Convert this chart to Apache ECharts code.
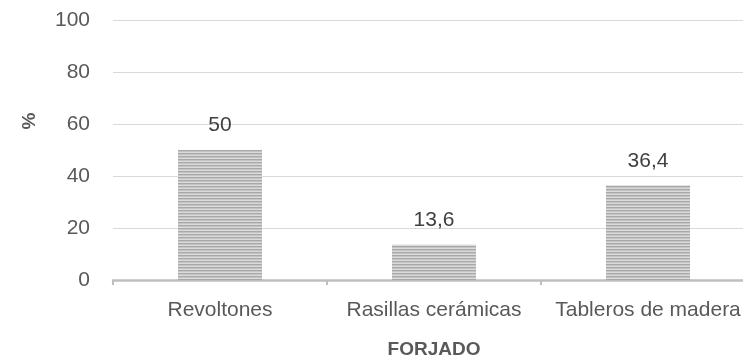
<!DOCTYPE html>
<html>
<head>
<meta charset="utf-8">
<script src="https://cdn.jsdelivr.net/npm/echarts@6/dist/echarts.min.js"></script>
<style>
  html, body { margin: 0; padding: 0; background: #ffffff; }
  #chart { width: 743px; height: 361px; }
</style>
</head>
<body>
<div id="chart"></div>
<script>
// Tipo de forjado (%)
const categories = ['Revoltones', 'Rasillas cerámicas', 'Tableros de madera'];
const values = [50, 13.6, 36.4];
const yTicks = [0, 20, 40, 60, 80, 100];

// Horizontal stripe fill for the bars
function stripePattern() {
  const c = document.createElement('canvas');
  c.width = 4; c.height = 3;
  const g = c.getContext('2d');
  g.fillStyle = '#dadada';
  g.fillRect(0, 0, 4, 3);
  g.fillStyle = '#a9a9a9';
  g.fillRect(0, 0, 4, 1);
  g.fillStyle = '#c4c4c4';
  g.fillRect(0, 1, 4, 1);
  return c;
}

const font = '"Liberation Sans", "Noto Sans", sans-serif';
const chart = echarts.init(document.getElementById('chart'), null, { renderer: 'canvas' });
chart.setOption({
  animation: false,
  textStyle: { fontFamily: font },
  grid: { left: 113, top: 20, width: 642, bottom: 81, containLabel: false, outerBoundsMode: 'none' },
  xAxis: {
    type: 'category',
    data: categories,
    name: 'FORJADO',
    nameLocation: 'middle',
    nameGap: 60,
    nameTextStyle: { fontFamily: font, fontSize: 19, fontWeight: 'bold', color: '#595959' },
    axisLine: { lineStyle: { color: '#bfbfbf', width: 2.5 } },
    axisTick: { show: true, alignWithLabel: false, length: 5, lineStyle: { color: '#bfbfbf', width: 2 } },
    axisLabel: { fontFamily: font, fontSize: 21, color: '#595959', margin: 20, interval: 0, hideOverlap: false }
  },
  yAxis: {
    type: 'value',
    min: yTicks[0],
    max: yTicks[yTicks.length - 1],
    interval: 20,
    name: '%',
    nameLocation: 'middle',
    nameGap: 74,
    nameTextStyle: { fontFamily: font, fontSize: 19, fontWeight: 'bold', color: '#595959', padding: [0, 0, 0, 58] },
    axisLine: { show: false },
    axisTick: { show: false },
    axisLabel: { fontFamily: font, fontSize: 21, color: '#595959', margin: 23 },
    splitLine: { lineStyle: { color: '#d9d9d9', width: 1 } }
  },
  series: [{
    type: 'bar',
    data: values,
    barWidth: 84,
    itemStyle: { color: { image: stripePattern(), repeat: 'repeat' } },
    label: {
      show: true,
      position: 'top',
      distance: 14,
      fontFamily: font,
      fontSize: 21,
      color: '#404040',
      formatter: p => String(p.value).replace('.', ',')
    }
  }]
});
</script>
</body>
</html>
